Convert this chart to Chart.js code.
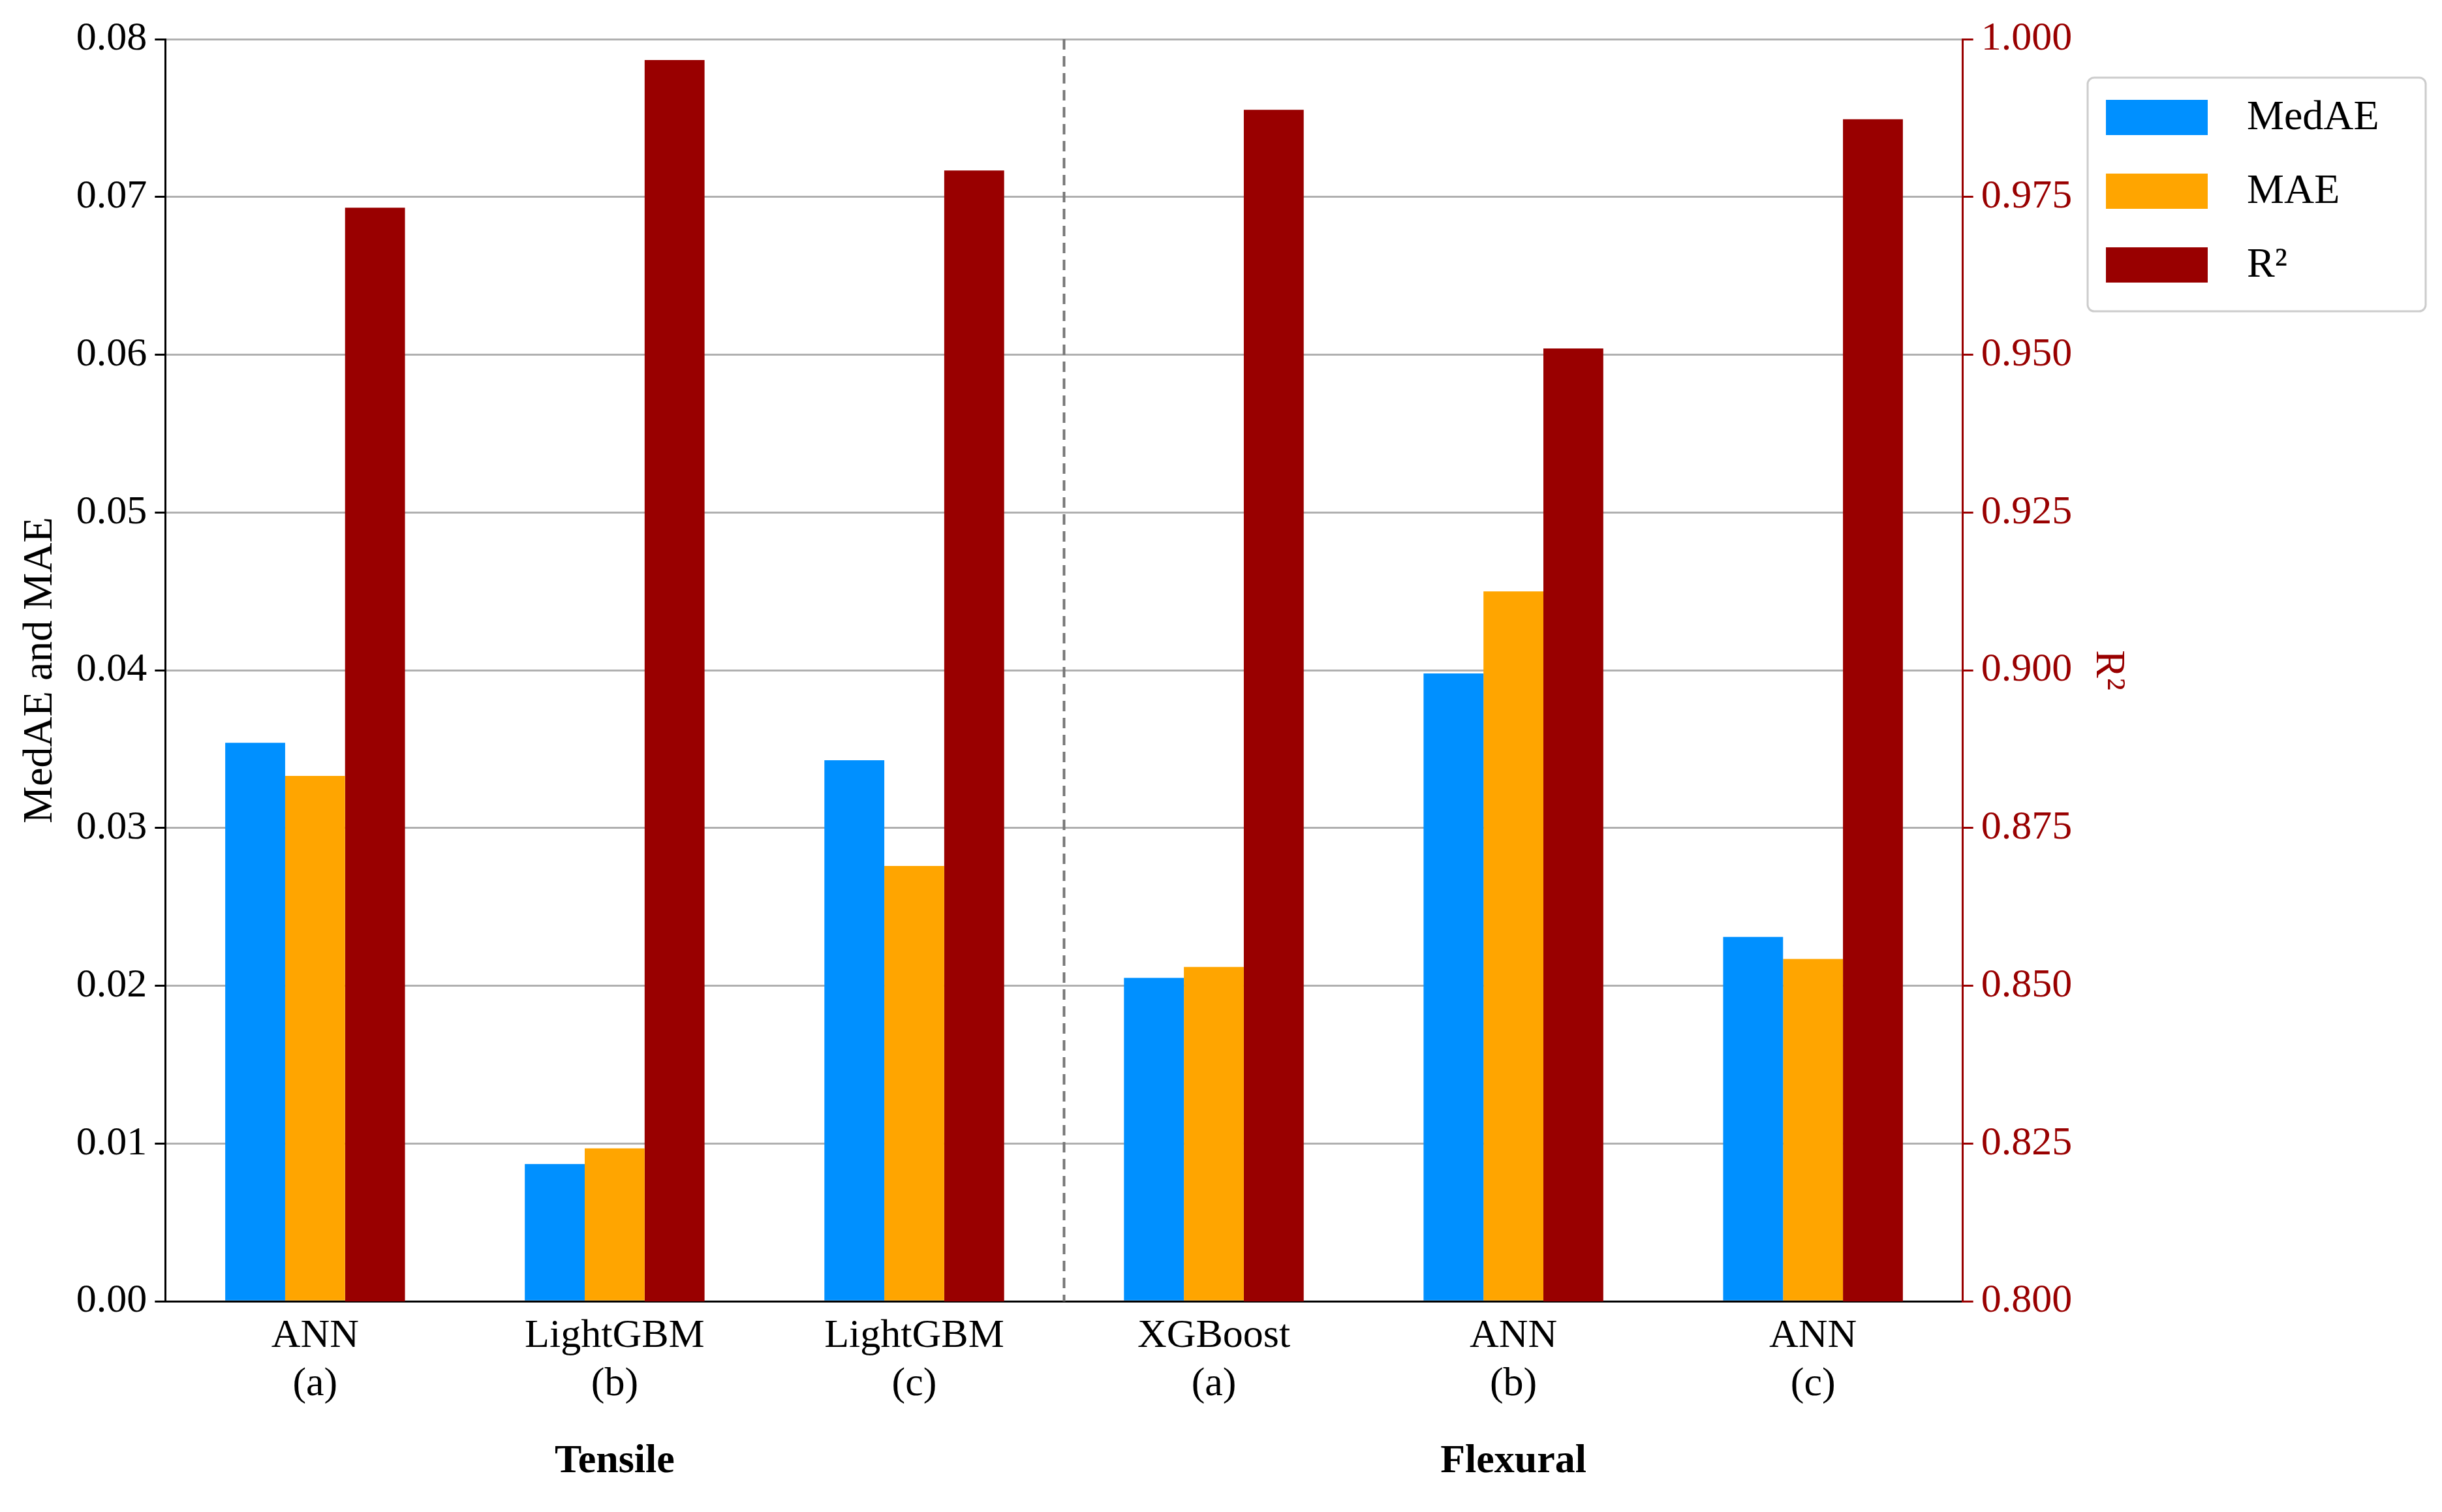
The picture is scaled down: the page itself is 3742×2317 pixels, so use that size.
<!DOCTYPE html>
<html><head><meta charset="utf-8">
<script src="https://cdn.jsdelivr.net/npm/chart.js@4"></script>
<style>body{margin:0;background:#fff}canvas{display:block}</style>
</head><body>
<canvas id="c" width="3742" height="2317"></canvas>
<script>
const categories = [['ANN','(a)'],['LightGBM','(b)'],['LightGBM','(c)'],['XGBoost','(a)'],['ANN','(b)'],['ANN','(c)']];
const medae = [0.0354, 0.0087, 0.0343, 0.0205, 0.0398, 0.0231];
const mae = [0.0333, 0.0097, 0.0276, 0.0212, 0.0450, 0.0217];
const r2 = [0.9733, 0.9967, 0.9792, 0.9888, 0.9510, 0.9873];
const groups = [{label:'Tensile', at:1}, {label:'Flexural', at:4}];
const legendItems = [['MedAE','#0090FF'],['MAE','#FFA500'],['R²','#990000']];

const FONT = 'Liberation Serif';
Chart.defaults.font.family = FONT;
Chart.defaults.color = '#000';

const extras = {
  id:'extras',
  afterDraw(chart){
    const ctx = chart.ctx, x = chart.scales.x, ca = chart.chartArea;
    // dashed separator
    const sx = (x.getPixelForValue(2)+x.getPixelForValue(3))/2;
    ctx.save();
    ctx.strokeStyle='#777'; ctx.lineWidth=4; ctx.setLineDash([16,10]);
    ctx.beginPath(); ctx.moveTo(sx,ca.top); ctx.lineTo(sx,ca.bottom); ctx.stroke();
    ctx.setLineDash([]);
    // group labels
    ctx.font = 'bold 62px '+FONT; ctx.fillStyle='#000'; ctx.textAlign='center'; ctx.textBaseline='middle';
    groups.forEach(g=>ctx.fillText(g.label, x.getPixelForValue(g.at), 2240));
    // legend
    const lx=3199, ly=119, lw=518, lh=358;
    ctx.fillStyle='#fff'; ctx.strokeStyle='#ccc'; ctx.lineWidth=3;
    ctx.beginPath(); ctx.roundRect(lx,ly,lw,lh,10); ctx.fill(); ctx.stroke();
    ctx.font='64px '+FONT; ctx.textAlign='left';
    legendItems.forEach((it,i)=>{
      const cy = ly+60+i*113;
      ctx.fillStyle=it[1]; ctx.fillRect(lx+28, cy-26, 156, 54);
      ctx.fillStyle='#000'; ctx.fillText(it[0], lx+244, cy+2);
    });
    ctx.restore();
  }
};

new Chart(document.getElementById('c'), {
  type:'bar',
  data:{ labels:categories, datasets:[
    {label:'MedAE', data:medae, backgroundColor:'#0090FF', yAxisID:'y'},
    {label:'MAE', data:mae, backgroundColor:'#FFA500', yAxisID:'y'},
    {label:'R²', data:r2, backgroundColor:'#990000', yAxisID:'y1'}
  ]},
  options:{
    responsive:false, devicePixelRatio:1, animation:false,
    layout:{padding:{top:60,left:20,right:470,bottom:150}},
    plugins:{legend:{display:false}, tooltip:{enabled:false}},
    datasets:{bar:{categoryPercentage:0.6, barPercentage:1.0}},
    scales:{
      x:{ grid:{display:false, drawTicks:true}, border:{color:'#000',width:3},
          ticks:{font:{size:62}, color:'#000', padding:8} },
      y:{ position:'left', min:0, max:0.08,
          ticks:{stepSize:0.01, font:{size:62}, color:'#000', callback:v=>v.toFixed(2), padding:12},
          grid:{color:'#b0b0b0', lineWidth:3, tickLength:16, tickColor:'#000'},
          border:{color:'#000',width:3},
          title:{display:true, text:'MedAE and MAE', font:{size:64}, color:'#000'} },
      y1:{ position:'right', min:0.8, max:1.0,
          ticks:{stepSize:0.025, font:{size:62}, color:'#990000', callback:v=>v.toFixed(3), padding:12},
          grid:{drawOnChartArea:false, tickLength:16, tickColor:'#990000', lineWidth:3},
          border:{color:'#990000',width:3},
          title:{display:true, text:'R²', font:{size:64}, color:'#990000'} }
    }
  },
  plugins:[extras]
});
</script>
</body></html>
